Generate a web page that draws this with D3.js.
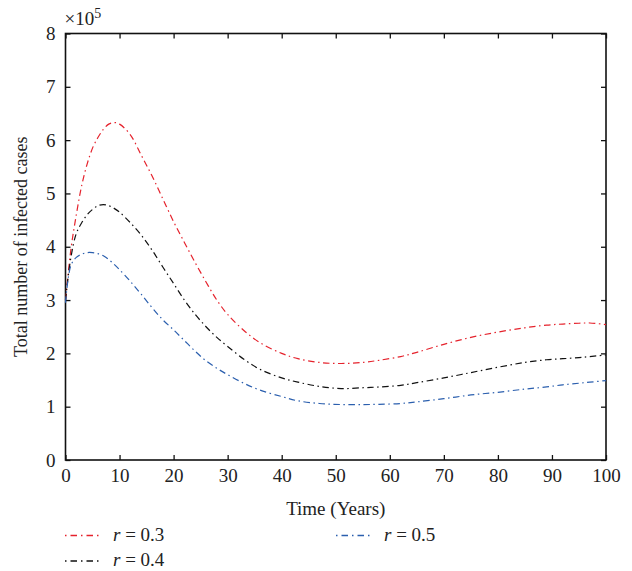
<!DOCTYPE html>
<html>
<head>
<meta charset="utf-8">
<style>
  body { margin: 0; background: #fff; }
  svg text { font-family: "Liberation Serif", "DejaVu Serif", serif; fill: #222; }
</style>
</head>
<body>
<svg width="632" height="571"></svg>
<script src="https://d3js.org/d3.v7.min.js"></script>
<script>
// time in years, values in units of 10^5 infected cases
var years = [0, 1, 2, 3, 4, 5, 6, 7, 8, 9, 10, 12, 14, 16, 18, 20, 22, 24, 26, 28, 30, 33, 36, 40, 43, 47, 51, 55, 58, 62, 65, 70, 75, 80, 85, 89, 92, 95, 97, 100];
var r03 = [3.0, 3.95, 4.6, 5.15, 5.55, 5.85, 6.05, 6.2, 6.3, 6.33, 6.3, 6.1, 5.72, 5.33, 4.9, 4.47, 4.08, 3.7, 3.34, 3.0, 2.73, 2.43, 2.2, 2.0, 1.9, 1.83, 1.81, 1.83, 1.87, 1.94, 2.02, 2.17, 2.3, 2.4, 2.48, 2.53, 2.55, 2.565, 2.57, 2.54];
var r04 = [3.0, 3.8, 4.25, 4.45, 4.6, 4.7, 4.77, 4.79, 4.77, 4.72, 4.65, 4.45, 4.22, 3.94, 3.62, 3.31, 3.0, 2.73, 2.5, 2.3, 2.13, 1.89, 1.7, 1.54, 1.46, 1.38, 1.34, 1.355, 1.37, 1.4, 1.45, 1.54, 1.64, 1.74, 1.83, 1.88, 1.9, 1.92, 1.94, 1.97];
var r05 = [2.95, 3.65, 3.8, 3.86, 3.89, 3.89, 3.87, 3.83, 3.76, 3.67, 3.57, 3.35, 3.11, 2.86, 2.63, 2.44, 2.24, 2.04, 1.86, 1.72, 1.6, 1.44, 1.31, 1.19, 1.11, 1.06, 1.04, 1.04, 1.045, 1.06, 1.09, 1.15, 1.22, 1.27, 1.33, 1.37, 1.41, 1.44, 1.46, 1.49];
var seriesNames = ["0.3", "0.4", "0.5"];
var seriesColors = ["#e5222c", "#111111", "#2b5fae"];
var xTicks = [0, 10, 20, 30, 40, 50, 60, 70, 80, 90, 100];
var yTicks = [0, 1, 2, 3, 4, 5, 6, 7, 8];

var series = [r03, r04, r05].map(function(vals, i) {
  return {
    name: seriesNames[i],
    color: seriesColors[i],
    values: years.map(function(t, j) { return [t, vals[j]]; })
  };
});

var svg = d3.select("svg"),
    margin = {top: 33.5, right: 26, bottom: 111, left: 65.5},
    width = +svg.attr("width"),
    height = +svg.attr("height");

var x = d3.scaleLinear().domain([0, 100]).range([margin.left, width - margin.right]);
var y = d3.scaleLinear().domain([0, 8]).range([height - margin.bottom, margin.top]);
var dash = "6.5,3.5,1.5,3.5";

// mirrored inward ticks on all four sides
svg.append("g")
    .attr("transform", "translate(0," + y(0) + ")")
    .call(d3.axisBottom(x).tickValues(xTicks).tickSizeInner(-5).tickSizeOuter(0).tickPadding(9))
    .call(function(g) { g.select(".domain").remove(); });
svg.append("g")
    .attr("transform", "translate(0," + y(8) + ")")
    .call(d3.axisTop(x).tickValues(xTicks).tickSizeInner(-5).tickSizeOuter(0).tickFormat(""))
    .call(function(g) { g.select(".domain").remove(); });
svg.append("g")
    .attr("transform", "translate(" + x(0) + ",0)")
    .call(d3.axisLeft(y).tickValues(yTicks).tickSizeInner(-5).tickSizeOuter(0).tickPadding(10))
    .call(function(g) { g.select(".domain").remove(); });
svg.append("g")
    .attr("transform", "translate(" + x(100) + ",0)")
    .call(d3.axisRight(y).tickValues(yTicks).tickSizeInner(-5).tickSizeOuter(0).tickFormat(""))
    .call(function(g) { g.select(".domain").remove(); });

svg.selectAll("g").attr("font-size", null).attr("font-family", null);
svg.selectAll(".tick line").attr("stroke", "#111").attr("stroke-width", 1.3);
svg.selectAll(".tick text").style("font-size", "19px").attr("fill", "#222");

svg.append("rect")
    .attr("x", x(0)).attr("y", y(8))
    .attr("width", x(100) - x(0)).attr("height", y(0) - y(8))
    .attr("fill", "none").attr("stroke", "#111").attr("stroke-width", 1.6);

var line = d3.line()
    .curve(d3.curveCatmullRom.alpha(0.5))
    .x(function(d) { return x(d[0]); })
    .y(function(d) { return y(d[1]); });

svg.append("g").selectAll("path")
    .data(series)
    .enter().append("path")
    .attr("fill", "none")
    .attr("stroke", function(d) { return d.color; })
    .attr("stroke-width", 1.2)
    .attr("stroke-dasharray", dash)
    .attr("d", function(d) { return line(d.values); });

// exponent label
var ex = svg.append("text").attr("x", x(0) - 1).attr("y", 25).style("font-size", "19px");
ex.append("tspan").text("\u00d710");
ex.append("tspan").attr("dy", -7).style("font-size", "14px").text("5");

svg.append("text")
    .attr("transform", "translate(27," + ((y(0) + y(8)) / 2) + ") rotate(-90)")
    .attr("text-anchor", "middle")
    .style("font-size", "18px")
    .text("Total number of infected cases");

svg.append("text")
    .attr("x", (x(0) + x(100)) / 2)
    .attr("y", 515)
    .attr("text-anchor", "middle")
    .style("font-size", "19px")
    .text("Time (Years)");

// legend
var legendPos = [[65, 540.5], [65, 566], [336, 540.5]];
var legend = svg.append("g").selectAll("g")
    .data(series)
    .enter().append("g")
    .attr("transform", function(d, i) { return "translate(" + legendPos[i][0] + "," + legendPos[i][1] + ")"; });

legend.append("line")
    .attr("x1", 0).attr("x2", 35)
    .attr("y1", -5).attr("y2", -5)
    .attr("stroke", function(d) { return d.color; })
    .attr("stroke-width", 1.5)
    .attr("stroke-dasharray", "1.5,4,6.5,4");

var lt = legend.append("text").attr("x", 48).style("font-size", "19px");
lt.append("tspan").attr("font-style", "italic").text("r");
lt.append("tspan").text(function(d) { return " = " + d.name; });
</script>
</body>
</html>
